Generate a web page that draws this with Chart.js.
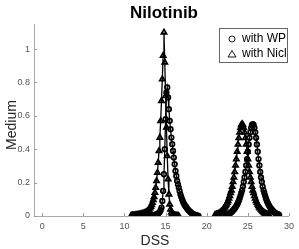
<!DOCTYPE html>
<html>
<head>
<meta charset="utf-8">
<script src="https://cdn.jsdelivr.net/npm/chart.js@4.4.1/dist/chart.umd.min.js"></script>
<style>
  body { margin: 0; background: #fff; }
  canvas { display: block; }
</style>
</head>
<body>
<canvas id="dssChart" width="299" height="249"></canvas>
<script>
// DSS grid around the first pair of peaks
const dssLow = [
  10.8, 10.9, 11.0, 11.1, 11.2, 11.3, 11.4, 11.5, 11.6, 11.7, 11.8, 11.9,
  12.0, 12.1, 12.2, 12.3, 12.4, 12.5, 12.6, 12.7, 12.8, 12.9,
  13.0, 13.1, 13.2, 13.3, 13.4, 13.5, 13.6, 13.7, 13.8, 13.9,
  14.0, 14.1, 14.2, 14.3, 14.4, 14.5, 14.6, 14.7, 14.8, 14.9,
  15.0, 15.1, 15.2, 15.3, 15.4, 15.5, 15.6, 15.7, 15.8, 15.9,
  16.0, 16.1, 16.2, 16.3, 16.4, 16.5, 16.6, 16.7, 16.8, 16.9,
  17.0, 17.1, 17.2, 17.3, 17.4, 17.5, 17.6, 17.7, 17.8, 17.9,
  18.0, 18.1, 18.2, 18.3, 18.4, 18.5, 18.6, 18.7, 18.8, 18.9, 19.0
];
const wpLow = [
  null, null, null, null, null, null, null, null, null, null, null, null,
  null, null, null, null, null, null, null, null, null, null,
  0.002, 0.002, 0.003, 0.003, 0.004, 0.005, 0.006, 0.007, 0.008, 0.010,
  0.012, 0.015, 0.019, 0.025, 0.035, 0.050, 0.090, 0.150, 0.250, 0.400,
  0.580, 0.740, 0.770, 0.710, 0.640, 0.570, 0.520, 0.470, 0.430, 0.390,
  0.350, 0.310, 0.270, 0.240, 0.210, 0.190, 0.170, 0.150, 0.130, 0.115,
  0.100, 0.088, 0.077, 0.067, 0.060, 0.053, 0.046, 0.040, 0.034, 0.029,
  0.024, 0.020, 0.016, 0.013, 0.010, 0.008, 0.006, 0.004, 0.003, 0.002, 0.001
];
const niclLow = [
  0.002, 0.003, 0.003, 0.004, 0.004, 0.005, 0.005, 0.006, 0.007, 0.008, 0.009, 0.010,
  0.011, 0.012, 0.013, 0.015, 0.017, 0.019, 0.022, 0.025, 0.029, 0.034,
  0.040, 0.047, 0.056, 0.067, 0.080, 0.096, 0.115, 0.140, 0.170, 0.210,
  0.260, 0.320, 0.390, 0.470, 0.570, 0.690, 0.820, 0.960, 1.100, 0.920,
  0.720, 0.530, 0.360, 0.220, 0.130, 0.070, 0.040, 0.022, 0.013, 0.008,
  0.005, 0.004, 0.003, 0.002, 0.002, 0.001, 0.001, null, null, null,
  null, null, null, null, null, null, null, null, null, null,
  null, null, null, null, null, null, null, null, null, null, null
];

// DSS grid around the second pair of peaks
const dssHigh = [
  21.0, 21.1, 21.2, 21.3, 21.4, 21.5, 21.6, 21.7, 21.8, 21.9,
  22.0, 22.1, 22.2, 22.3, 22.4, 22.5, 22.6, 22.7, 22.8, 22.9,
  23.0, 23.1, 23.2, 23.3, 23.4, 23.5, 23.6, 23.7, 23.8, 23.9,
  24.0, 24.1, 24.2, 24.3, 24.4, 24.5, 24.6, 24.7, 24.8, 24.9,
  25.0, 25.1, 25.2, 25.3, 25.4, 25.5, 25.6, 25.7, 25.8, 25.9,
  26.0, 26.1, 26.2, 26.3, 26.4, 26.5, 26.6, 26.7, 26.8, 26.9,
  27.0, 27.1, 27.2, 27.3, 27.4, 27.5, 27.6, 27.7, 27.8, 27.9,
  28.0, 28.1, 28.2, 28.3, 28.4, 28.5, 28.6, 28.7, 28.8
];
const wpHigh = [
  null, null, null, null, null, null, null, null, null, null,
  null, null, null, 0.006, 0.007, 0.009, 0.011, 0.013, 0.016, 0.019,
  0.023, 0.028, 0.033, 0.039, 0.045, 0.052, 0.061, 0.069, 0.080, 0.091,
  0.105, 0.121, 0.138, 0.154, 0.176, 0.204, 0.231, 0.264, 0.303, 0.341,
  0.385, 0.429, 0.468, 0.501, 0.528, 0.545, 0.550, 0.545, 0.528, 0.501,
  0.468, 0.429, 0.385, 0.341, 0.303, 0.264, 0.231, 0.204, 0.176, 0.154,
  0.138, 0.121, 0.105, 0.091, 0.080, 0.069, 0.061, 0.052, 0.045, 0.039,
  0.033, 0.028, 0.023, 0.019, 0.016, 0.013, 0.011, 0.009, 0.007
];
const niclHigh = [
  0.006, 0.007, 0.009, 0.011, 0.013, 0.016, 0.019, 0.023, 0.028, 0.033,
  0.039, 0.045, 0.052, 0.061, 0.069, 0.080, 0.091, 0.105, 0.121, 0.138,
  0.154, 0.176, 0.204, 0.231, 0.264, 0.303, 0.341, 0.385, 0.429, 0.468,
  0.501, 0.528, 0.545, 0.552, 0.545, 0.528, 0.501, 0.468, 0.429, 0.385,
  0.341, 0.303, 0.264, 0.231, 0.204, 0.176, 0.154, 0.138, 0.121, 0.105,
  0.091, 0.080, 0.069, 0.061, 0.052, 0.045, 0.039, 0.033, 0.028, 0.023,
  0.019, 0.016, 0.013, 0.011, 0.009, 0.007, 0.006, null, null, null,
  null, null, null, null, null, null, null, null, null
];

const xTicks = [0, 5, 10, 15, 20, 25, 30];
const yTicks = [0, 0.2, 0.4, 0.6, 0.8, 1];
const legendLabels = ['with WP', 'with Nicl'];

function toPoints(xs, ys) {
  return xs.map((x, i) => ({ x: x, y: ys[i] }));
}

function series(label, xs, ys, style) {
  return {
    label: label,
    data: toPoints(xs, ys),
    showLine: true,
    borderColor: '#000',
    borderWidth: 1.3,
    pointStyle: style,
    pointRadius: style === 'triangle' ? 3 : 2.3,
    pointBorderWidth: 1.7,
    pointBorderColor: '#000',
    pointBackgroundColor: 'rgba(0,0,0,0)',
    spanGaps: false
  };
}

const decor = {
  id: 'decor',
  afterDraw(chart) {
    const ctx = chart.ctx;
    const xs = chart.scales.x, ys = chart.scales.y, area = chart.chartArea;
    ctx.save();
    // ticks point inward
    ctx.strokeStyle = '#999';
    ctx.lineWidth = 1;
    xTicks.forEach(v => {
      const px = Math.round(xs.getPixelForValue(v)) + 0.5;
      ctx.beginPath(); ctx.moveTo(px, area.bottom); ctx.lineTo(px, area.bottom - 3); ctx.stroke();
    });
    yTicks.forEach(v => {
      const py = Math.round(ys.getPixelForValue(v)) + 0.5;
      ctx.beginPath(); ctx.moveTo(area.left, py); ctx.lineTo(area.left + 3, py); ctx.stroke();
    });

    ctx.fillStyle = '#000';
    ctx.textAlign = 'center';
    ctx.textBaseline = 'alphabetic';
    ctx.font = 'bold 17px "Liberation Sans", Arial, sans-serif';
    ctx.fillText('Nilotinib', 164, 18);

    ctx.fillStyle = '#262626';
    ctx.font = '14px "Liberation Sans", Arial, sans-serif';
    ctx.fillText('DSS', 155, 245);
    ctx.save();
    ctx.translate(16, 125);
    ctx.rotate(-Math.PI / 2);
    ctx.fillText('Medium', 0, 0);
    ctx.restore();

    // legend box
    ctx.fillStyle = '#fff';
    ctx.fillRect(219.5, 28.5, 68, 34);
    ctx.strokeStyle = '#666';
    ctx.strokeRect(219.5, 28.5, 68, 34);
    ctx.strokeStyle = '#000';
    ctx.lineWidth = 0.9;
    ctx.beginPath(); ctx.arc(232, 39, 3, 0, Math.PI * 2); ctx.stroke();
    ctx.beginPath();
    ctx.moveTo(232, 50.5); ctx.lineTo(236, 57); ctx.lineTo(228, 57); ctx.closePath(); ctx.stroke();
    ctx.fillStyle = '#000';
    ctx.textAlign = 'left';
    ctx.textBaseline = 'middle';
    ctx.font = '12px "Liberation Sans", Arial, sans-serif';
    ctx.fillText(legendLabels[0], 242, 39);
    ctx.fillText(legendLabels[1], 242, 54);
    ctx.restore();
  }
};

const tickFont = { family: '"Liberation Sans", Arial, sans-serif', size: 9 };

new Chart(document.getElementById('dssChart').getContext('2d'), {
  type: 'scatter',
  data: {
    datasets: [
      series(legendLabels[0], dssLow, wpLow, 'circle'),
      series(legendLabels[1], dssLow, niclLow, 'triangle'),
      series(legendLabels[0], dssHigh, wpHigh, 'circle'),
      series(legendLabels[1], dssHigh, niclHigh, 'triangle')
    ]
  },
  options: {
    responsive: false,
    animation: false,
    devicePixelRatio: 1,
    layout: { padding: { top: 24, right: 7, bottom: 0, left: 0 } },
    plugins: {
      legend: { display: false },
      title: { display: false },
      tooltip: { enabled: false }
    },
    scales: {
      x: {
        type: 'linear',
        min: -1,
        max: 30,
        afterFit: s => { s.height = 33; },
        afterBuildTicks: s => { s.ticks = xTicks.map(v => ({ value: v })); },
        grid: { display: false, drawTicks: false, tickLength: 0 },
        border: { display: true, color: '#aaa', width: 1 },
        ticks: { color: '#555', font: tickFont, padding: 5, maxRotation: 0, callback: v => String(v) }
      },
      y: {
        type: 'linear',
        min: 0,
        max: 1.15,
        afterFit: s => { s.width = 34; },
        afterBuildTicks: s => { s.ticks = yTicks.map(v => ({ value: v })); },
        grid: { display: false, drawTicks: false, tickLength: 0 },
        border: { display: true, color: '#aaa', width: 1 },
        ticks: { color: '#555', font: tickFont, padding: 4, callback: v => String(v) }
      }
    }
  },
  plugins: [decor]
});
</script>
</body>
</html>
